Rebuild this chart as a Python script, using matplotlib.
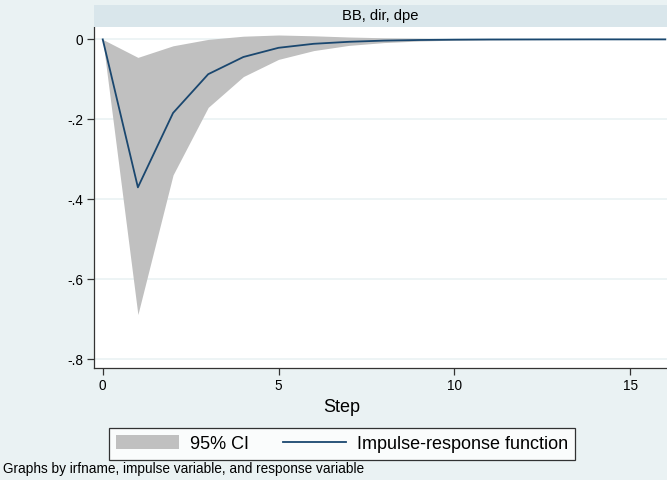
import matplotlib.pyplot as plt
from matplotlib.patches import Rectangle, Patch
from matplotlib.lines import Line2D

plt.rcParams['font.family'] = ['Liberation Sans', 'DejaVu Sans']

steps = list(range(17))
irf = [0, -0.37, -0.184, -0.087, -0.044, -0.021, -0.011, -0.006, -0.003,
       -0.0015, -0.0007, -0.0003, -0.0002, -0.0001, 0, 0, 0]
ci_lower = [0, -0.688, -0.339, -0.17, -0.093, -0.05, -0.028, -0.015, -0.008,
            -0.004, -0.002, -0.001, -0.0006, -0.0003, -0.0002, -0.0001, -0.0001]
ci_upper = [0, -0.045, -0.016, 0.0, 0.008, 0.011, 0.009, 0.006, 0.004,
            0.003, 0.002, 0.0015, 0.001, 0.0008, 0.0006, 0.0005, 0.0004]
yticks = [0, -0.2, -0.4, -0.6, -0.8]
ytick_labels = ['0', '-.2', '-.4', '-.6', '-.8']
xticks = [0, 5, 10, 15]

bg = '#eaf2f3'
fig = plt.figure(figsize=(6.67, 4.8), dpi=100)
fig.patch.set_facecolor(bg)

ax = fig.add_axes([94.3 / 667, 1 - 367.7 / 480, 1 - 94.3 / 667, (367.7 - 27) / 480])
ax.set_facecolor('white')
ax.fill_between(steps, ci_lower, ci_upper, color='#c0c0c0', linewidth=0, zorder=2)
ax.plot(steps, irf, color='#1a476f', linewidth=1.3, zorder=3)

ax.set_xlim(-0.24, 16.05)
ax.set_ylim(-0.821, 0.031)
ax.set_yticks(yticks)
ax.set_yticklabels(ytick_labels)
ax.set_xticks(xticks)
ax.yaxis.grid(True, color=bg, linewidth=1.2, zorder=1)
ax.set_axisbelow(True)
for s in ['top', 'right']:
    ax.spines[s].set_visible(False)
for s in ['left', 'bottom']:
    ax.spines[s].set_color('#333333')
    ax.spines[s].set_linewidth(0.9)
ax.tick_params(direction='out', length=5, width=0.9, color='#333333',
               labelsize=9.8, pad=3)

# header band
fig.patches.append(Rectangle((94.3 / 667, 1 - 27 / 480), 1 - 94.3 / 667, 22 / 480,
                             transform=fig.transFigure, facecolor='#d9e6eb',
                             edgecolor='none'))
fig.text((94.3 + 667) / 2 / 667, 1 - 16 / 480, 'BB, dir, dpe', ha='center',
         va='center', fontsize=10.6)

fig.text(342 / 667, 1 - 408 / 480, 'Step', ha='center', va='center', fontsize=13)

handles = [Patch(facecolor='#c0c0c0', edgecolor='none', label='95% CI'),
           Line2D([], [], color='#1a476f', linewidth=1.3,
                  label='Impulse-response function')]
leg = fig.legend(handles=handles, loc='center', bbox_to_anchor=(342 / 667, 1 - 444 / 480),
                 ncol=2, frameon=True, fancybox=False, fontsize=13,
                 handlelength=3.5, handleheight=0.8, handletextpad=0.6,
                 columnspacing=1.9, borderpad=0.4, borderaxespad=0)
leg.get_frame().set_edgecolor('black')
leg.get_frame().set_linewidth(0.9)

fig.text(3 / 667, 1 - 469 / 480, 'Graphs by irfname, impulse variable, and response variable',
         ha='left', va='center', fontsize=9.8)

fig.savefig('out.png', dpi=100, facecolor=bg)
